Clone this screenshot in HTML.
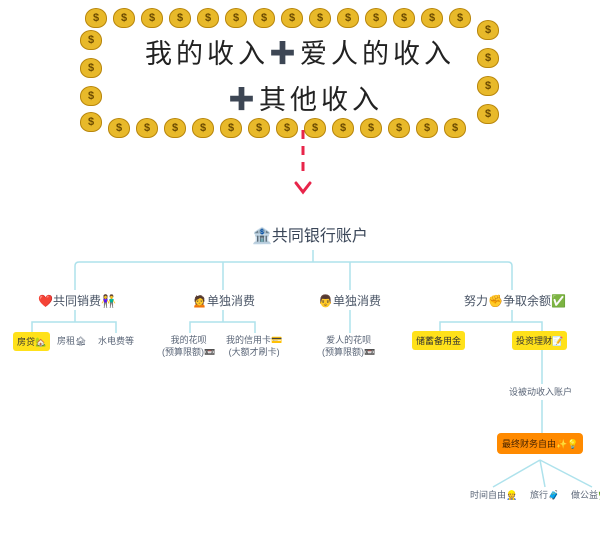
<!DOCTYPE html>
<html><head><meta charset="utf-8"><style>
body{margin:0;width:600px;height:539px;background:#fff;position:relative;overflow:hidden;font-family:"Liberation Sans","Noto Sans CJK SC",sans-serif;}
.a{position:absolute;white-space:nowrap;}
.bag{position:absolute;width:20px;height:18px;border-radius:50% 50% 45% 45%;background:#e8b92a;border:1px solid #b8860b;font:bold 11px "Liberation Sans",sans-serif;color:#6b4a00;text-align:center;line-height:18px;}
.t{font-size:12px;color:#4a5566;}
.s{font-size:9px;color:#5a6577;text-align:center;line-height:12px;}
.y{background:#ffe11a;border-radius:3px;padding:3px 4px;font-size:9px;color:#333;}
</style></head><body>
<div id="bags"></div>
<div class="a" style="left:145px;top:32px;font-size:27px;color:#222;letter-spacing:4px;">我的收入<span style="color:#3d4654">✚</span>爱人的收入</div>
<div class="a" style="left:228px;top:78px;font-size:27px;color:#222;letter-spacing:4px;"><span style="color:#3d4654">✚</span>其他收入</div>
<svg class="a" style="left:0;top:0" width="600" height="539">
<path d="M303 130 L303 178" stroke="#e8254a" stroke-width="3" stroke-dasharray="9 7" fill="none"/>
<path d="M296 183 L303 192 L310 183" stroke="#e8254a" stroke-width="3" fill="none" stroke-linecap="round"/>
<g stroke="#aee2ec" stroke-width="1.5" fill="none">
<path d="M313 250 V262 M75 290 V266 Q75 262 79 262 H508 Q512 262 512 266 V290 M223 262 V290 M350 262 V290"/>
<path d="M75 310 V322 M32 333 V322 H116 V333"/>
<path d="M223 310 V322 M190 333 V322 H255 V333"/>
<path d="M350 310 V333"/>
<path d="M512 310 V322 M440 333 V322 H542 V333"/>
<path d="M542 350 V384 M542 400 V433"/>
<path d="M540 460 L493 487 M540 460 L545 487 M540 460 L592 487"/>
</g></svg>
<div class="a" style="left:252px;top:222px;font-size:16px;color:#3a4658;">🏦共同银行账户</div>
<div class="a t" style="left:38px;top:292px;">❤️共同销费👫</div>
<div class="a t" style="left:192px;top:292px;">🙍单独消费</div>
<div class="a t" style="left:318px;top:292px;">👨单独消费</div>
<div class="a t" style="left:464px;top:292px;">努力✊争取余额✅</div>
<div class="a y" style="left:13px;top:332px;">房贷🏡</div>
<div class="a s" style="left:57px;top:335px;">房租🏚</div>
<div class="a s" style="left:98px;top:335px;">水电费等</div>
<div class="a s" style="left:162px;top:334px;">我的花呗<br>(预算限额)📼</div>
<div class="a s" style="left:226px;top:334px;">我的信用卡💳<br>(大额才刷卡)</div>
<div class="a s" style="left:322px;top:334px;">爱人的花呗<br>(预算限额)📼</div>
<div class="a y" style="left:412px;top:331px;">储蓄备用金</div>
<div class="a y" style="left:512px;top:331px;">投资理财📝</div>
<div class="a s" style="left:509px;top:386px;">设被动收入账户</div>
<div class="a" style="left:497px;top:433px;background:#ff8a00;border-radius:4px;padding:4px 5px;font-size:9px;color:#4a2500;">最终财务自由✨💡</div>
<div class="a s" style="left:470px;top:489px;">时间自由👷</div>
<div class="a s" style="left:530px;top:489px;">旅行🧳</div>
<div class="a s" style="left:571px;top:489px;">做公益🌿</div>
<script>
var h='',i;
for(i=0;i<14;i++)h+='<div class="bag" style="left:'+(85+i*28)+'px;top:8px">$</div>';
for(i=0;i<13;i++)h+='<div class="bag" style="left:'+(108+i*28)+'px;top:118px">$</div>';
[30,58,86,112].forEach(function(y){h+='<div class="bag" style="left:80px;top:'+y+'px">$</div>';});
[20,48,76,104].forEach(function(y){h+='<div class="bag" style="left:477px;top:'+y+'px">$</div>';});
document.getElementById('bags').innerHTML=h;
</script>
</body></html>
